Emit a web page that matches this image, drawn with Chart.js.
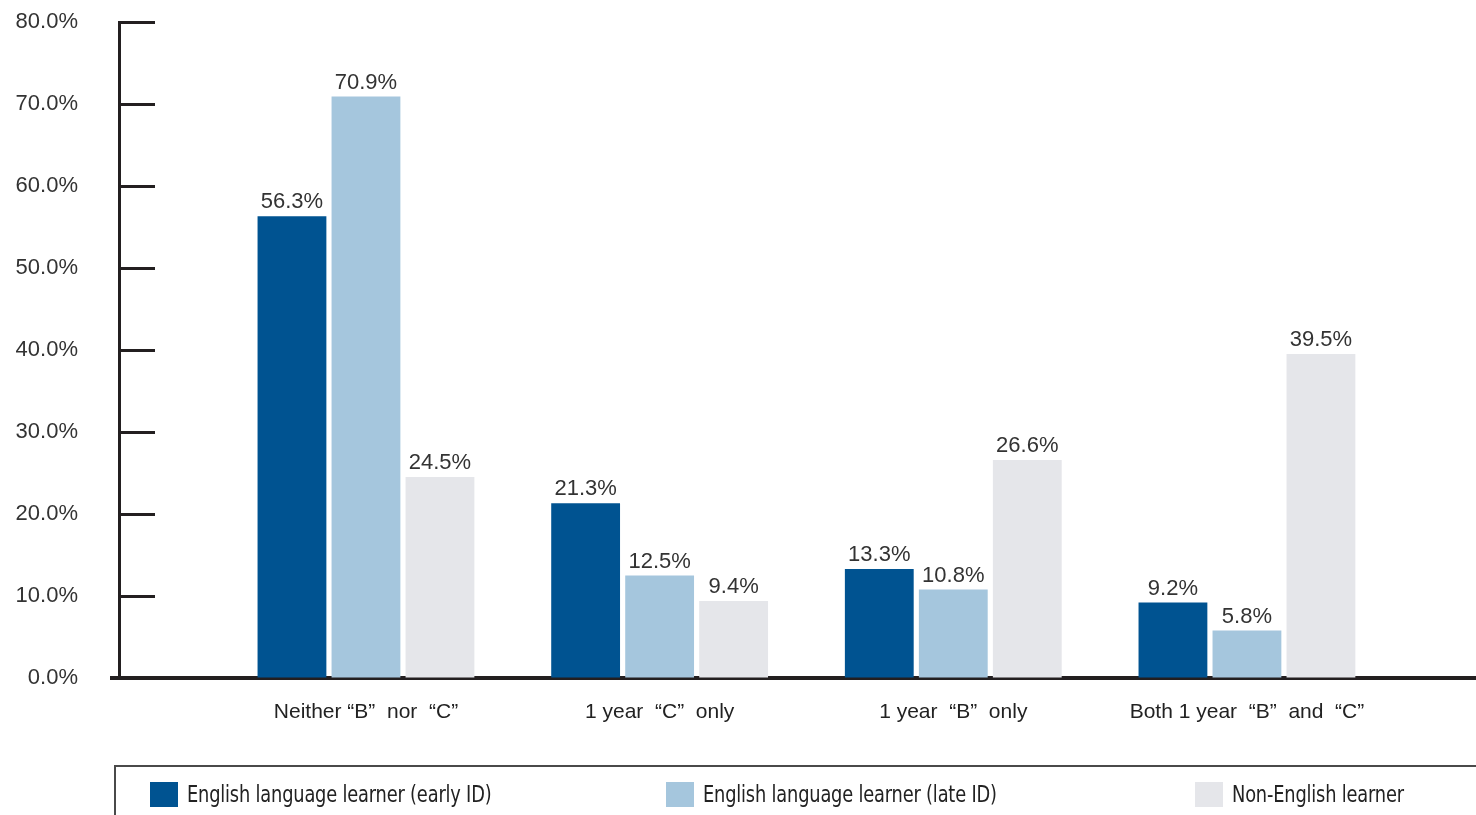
<!DOCTYPE html>
<html>
<head>
<meta charset="utf-8">
<script src="https://cdn.jsdelivr.net/npm/chart.js@4.4.1/dist/chart.umd.min.js"></script>
<style>
    html, body { margin: 0; padding: 0; background: #fff; }
    #wrap { position: relative; width: 1476px; height: 815px; overflow: hidden; }
    #legend {
        position: absolute; left: 114px; top: 765px; width: 1400px; height: 80px;
        border-top: 2px solid #4a4a4a; border-left: 2px solid #4a4a4a;
        font-family: "Liberation Sans Narrow", "DejaVu Sans Condensed", sans-serif;
        font-size: 23px; color: #222;
    }
    .item { position: absolute; top: 14px; display: flex; align-items: center; white-space: nowrap; }
    .swatch { width: 28px; height: 25px; margin-right: 9px; }
    .name { display: inline-block; transform: scaleX(0.86); transform-origin: left center; letter-spacing: -0.2px; }
</style>
</head>
<body>
<div id="wrap">
    <canvas id="outcomeChart" width="1476" height="815"></canvas>
    <div id="legend"></div>
</div>
<script>
const categories = ['Neither \u201cB\u201d  nor  \u201cC\u201d', '1 year  \u201cC\u201d  only', '1 year  \u201cB\u201d  only', 'Both 1 year  \u201cB\u201d  and  \u201cC\u201d'];
const seriesNames = ['English language learner (early ID)', 'English language learner (late ID)', 'Non-English learner'];
const earlyId = [56.3, 21.3, 13.3, 9.2];
const lateId = [70.9, 12.5, 10.8, 5.8];
const nonEll = [24.5, 9.4, 26.6, 39.5];
const yTicks = [0, 10, 20, 30, 40, 50, 60, 70, 80];

const colors = ['#005391', '#a5c6dd', '#e5e6ea'];
const axisColor = '#231f20';

document.addEventListener("DOMContentLoaded", function() {

    const toPoints = arr => arr.map((v, i) => ({ x: i, y: v }));

    // value labels above each bar
    const valueLabels = {
        id: 'valueLabels',
        afterDatasetsDraw(chart) {
            const ctx = chart.ctx;
            ctx.save();
            ctx.font = '22px "Liberation Sans", Arial, sans-serif';
            ctx.fillStyle = '#333';
            ctx.textAlign = 'center';
            ctx.textBaseline = 'bottom';
            chart.data.datasets.forEach((ds, di) => {
                chart.getDatasetMeta(di).data.forEach((bar, i) => {
                    ctx.fillText(ds.data[i].y.toFixed(1) + '%', bar.x, bar.y - 3);
                });
            });
            ctx.restore();
        }
    };

    // y ticks point inward, x axis pokes out a little to the left
    const innerTicks = {
        id: 'innerTicks',
        afterDraw(chart) {
            const ctx = chart.ctx;
            const y = chart.scales.y;
            const area = chart.chartArea;
            ctx.save();
            ctx.strokeStyle = axisColor;
            ctx.lineWidth = 3;
            y.ticks.forEach(t => {
                if (t.value === 0) return;
                const py = Math.round(y.getPixelForValue(t.value)) + 0.5;
                ctx.beginPath();
                ctx.moveTo(area.left, py);
                ctx.lineTo(area.left + 36, py);
                ctx.stroke();
            });
            ctx.lineWidth = 4;
            const py0 = y.getPixelForValue(0);
            ctx.beginPath();
            ctx.moveTo(area.left - 9, py0);
            ctx.lineTo(area.left + 2, py0);
            ctx.stroke();
            ctx.restore();
        }
    };

    const ctx = document.getElementById('outcomeChart');
    new Chart(ctx, {
        type: 'bar',
        data: {
            datasets: [earlyId, lateId, nonEll].map((arr, i) => ({
                label: seriesNames[i],
                data: toPoints(arr),
                backgroundColor: colors[i],
                borderWidth: 0,
                categoryPercentage: 0.756,
                barPercentage: 0.93
            }))
        },
        options: {
            responsive: false,
            animation: false,
            layout: { padding: { top: 22, right: 0, bottom: 0, left: 0 } },
            plugins: {
                legend: { display: false },
                tooltip: { enabled: false }
            },
            scales: {
                x: {
                    type: 'linear',
                    offset: false,
                    min: -0.841,
                    max: 3.78,
                    afterFit: s => { s.height = 137; },
                    afterBuildTicks: s => { s.ticks = categories.map((c, i) => ({ value: i })); },
                    grid: { offset: false, drawOnChartArea: false, drawTicks: false },
                    border: { color: axisColor, width: 4 },
                    ticks: {
                        padding: 22,
                        maxRotation: 0,
                        minRotation: 0,
                        autoSkip: false,
                        color: '#222',
                        font: { family: '"Liberation Sans", Arial, sans-serif', size: 21 },
                        callback: v => categories[v]
                    }
                },
                y: {
                    min: 0,
                    max: 80,
                    afterFit: s => { s.width = 119; },
                    afterBuildTicks: s => { s.ticks = yTicks.map(v => ({ value: v })); },
                    // invisible outer ticks just push the labels away from the axis
                    grid: { drawOnChartArea: false, drawTicks: true, tickLength: 38, color: 'rgba(0,0,0,0)' },
                    border: { color: axisColor, width: 3 },
                    ticks: {
                        padding: 3,
                        color: '#333',
                        font: { family: '"Liberation Sans", Arial, sans-serif', size: 22 },
                        callback: v => v.toFixed(1) + '%'
                    }
                }
            }
        },
        plugins: [valueLabels, innerTicks]
    });

    // legend in its open box under the plot
    const legendPos = [34, 550, 1079];
    const legend = document.getElementById('legend');
    seriesNames.forEach((name, i) => {
        const item = document.createElement('div');
        item.className = 'item';
        item.style.left = legendPos[i] + 'px';
        item.innerHTML = '<span class="swatch" style="background:' + colors[i] + '"></span><span class="name">' + name + '</span>';
        legend.appendChild(item);
    });
});
</script>
</body>
</html>
